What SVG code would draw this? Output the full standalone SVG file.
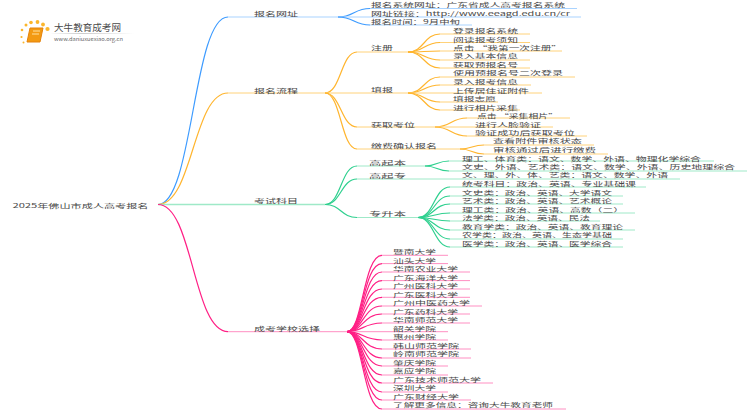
<svg xmlns="http://www.w3.org/2000/svg" width="750" height="410" viewBox="0 0 750 410">
<style>
text{font-family:"Noto Sans CJK SC","Liberation Sans",sans-serif;font-size:5.800px;fill:#4a4a4a}
path{fill:none;stroke-width:1}
.bs{stroke:#3d9bff;stroke-width:1.200}.bl{stroke:#a9d3ff}
.os{stroke:#ffb52e;stroke-width:1.200}.ol{stroke:#ffd27a}
.gs{stroke:#2fd08f;stroke-width:1.200}.gl{stroke:#9fe9c8}
.ps{stroke:#ff1f85;stroke-width:1.200}.pl{stroke:#ff8fc2}
</style>
<defs><linearGradient id="fade" x1="0" x2="1" y1="0" y2="0"><stop offset="0" stop-color="#bbb" stop-opacity="0"/><stop offset=".4" stop-color="#ccc"/><stop offset="1" stop-color="#ccc" stop-opacity="0"/></linearGradient></defs>
<rect width="750" height="410" fill="#fff"/>
<g id="logo">
<g fill="#fbb62c"><circle cx="22" cy="30" r="1.300"/><circle cx="26" cy="25" r="1.500"/><circle cx="31" cy="22.500" r="1.800"/><circle cx="37.500" cy="22" r="1.900"/><circle cx="43" cy="24.500" r="1.900"/><circle cx="47.500" cy="29" r="2.100"/><circle cx="21.500" cy="37" r="1.100"/><circle cx="23.500" cy="42.500" r="1"/></g>
<path d="M30 28H43L40 42H27Z" style="fill:#f39a12;stroke:#e5820a"/>
<path d="M33 31H40M32 34H39" style="stroke:#ffe2a0"/>
<rect x="50" y="33" width="84" height="1" fill="url(#fade)"/>
<text x="54" y="30.500" textLength="67" lengthAdjust="spacingAndGlyphs" style="font-size:9.500px">大牛教育成考网</text>
<text x="54" y="41" textLength="69" lengthAdjust="spacingAndGlyphs" style="font-size:5px;fill:#666">www.daniuxuexiao.org.cn</text>
</g>
<g id="connectors">
<path class="bs" d="M158 204.500C193 204.500 193 17 228 17"/><path class="bl" d="M228 17H338"/>
<path class="bs" d="M338 17C354 17 354 8.500 370 8.500"/><path class="bl" d="M370 8.500H577"/>
<path class="bl" d="M338 17H581"/>
<path class="bs" d="M338 17C354 17 354 25 370 25"/><path class="bl" d="M370 25H472"/>
<path class="os" d="M158 204.500C193 204.500 193 93 228 93"/><path class="ol" d="M228 93H325"/>
<path class="os" d="M325 93C341 93 341 52 357 52"/><path class="ol" d="M357 52H408"/>
<path class="ol" d="M325 93H408"/>
<path class="os" d="M325 93C341 93 341 127 357 127"/><path class="ol" d="M357 127H435"/>
<path class="os" d="M325 93C341 93 341 149 357 149"/><path class="ol" d="M357 149H460"/>
<path class="os" d="M408 52C424 52 424 34 440 34"/><path class="ol" d="M440 34H530"/>
<path class="os" d="M408 52C424 52 424 42.500 440 42.500"/><path class="ol" d="M440 42.500H530"/>
<path class="os" d="M408 52C424 52 424 51 440 51"/><path class="ol" d="M440 51H562"/>
<path class="os" d="M408 52C424 52 424 60 440 60"/><path class="ol" d="M440 60H530"/>
<path class="os" d="M408 52C424 52 424 68 440 68"/><path class="ol" d="M440 68H530"/>
<path class="os" d="M408 93C424 93 424 77 440 77"/><path class="ol" d="M440 77H575"/>
<path class="os" d="M408 93C424 93 424 85 440 85"/><path class="ol" d="M440 85H531"/>
<path class="ol" d="M408 93H542"/>
<path class="os" d="M408 93C424 93 424 102 440 102"/><path class="ol" d="M440 102H498"/>
<path class="os" d="M408 93C424 93 424 110 440 110"/><path class="ol" d="M440 110H520"/>
<path class="os" d="M435 127C451 127 451 118 467 118"/><path class="ol" d="M467 118H570"/>
<path class="ol" d="M435 127H553"/>
<path class="os" d="M435 127C451 127 451 136 467 136"/><path class="ol" d="M467 136H587"/>
<path class="os" d="M460 149C472 149 472 145 484 145"/><path class="ol" d="M484 145H594"/>
<path class="os" d="M460 149C472 149 472 154 484 154"/><path class="ol" d="M484 154H608"/>
<path class="gl" d="M158 204.500H325" style="stroke-width:1.500"/>
<path class="gs" d="M325 204.500C341 204.500 341 166 357 166"/><path class="gl" d="M357 166H425"/>
<path class="gs" d="M325 204.500C341 204.500 341 179 357 179"/><path class="gl" d="M357 179H680"/>
<path class="gs" d="M325 204.500C341 204.500 341 217.500 357 217.500"/><path class="gl" d="M357 217.500H418"/>
<path class="gs" d="M425 166C437 166 437 161 449 161"/><path class="gl" d="M449 161H714"/>
<path class="gs" d="M425 166C437 166 437 171 449 171"/><path class="gl" d="M449 171H747"/>
<path class="gs" d="M418 217.500C434 217.500 434 187 450 187"/><path class="gl" d="M450 187H646"/>
<path class="gs" d="M418 217.500C434 217.500 434 196 450 196"/><path class="gl" d="M450 196H623"/>
<path class="gs" d="M418 217.500C434 217.500 434 204 450 204"/><path class="gl" d="M450 204H623"/>
<path class="gs" d="M418 217.500C434 217.500 434 213 450 213"/><path class="gl" d="M450 213H635"/>
<path class="gs" d="M418 217.500C434 217.500 434 221 450 221"/><path class="gl" d="M450 221H600"/>
<path class="gs" d="M418 217.500C434 217.500 434 230 450 230"/><path class="gl" d="M450 230H635"/>
<path class="gs" d="M418 217.500C434 217.500 434 239 450 239"/><path class="gl" d="M450 239H623"/>
<path class="gs" d="M418 217.500C434 217.500 434 247 450 247"/><path class="gl" d="M450 247H623"/>
<path class="ps" d="M158 204.500C193 204.500 193 331.700 228 331.700"/><path class="pl" d="M228 331.700H347"/>
<path class="ps" d="M347 331.700C363 331.700 363 255.300 382 255.300"/><path class="pl" d="M382 255.300H448"/>
<path class="ps" d="M347 331.700C363 331.700 363 263.600 382 263.600"/><path class="pl" d="M382 263.600H448"/>
<path class="ps" d="M347 331.700C363 331.700 363 272 382 272"/><path class="pl" d="M382 272H470"/>
<path class="ps" d="M347 331.700C363 331.700 363 280.600 382 280.600"/><path class="pl" d="M382 280.600H470"/>
<path class="ps" d="M347 331.700C363 331.700 363 289 382 289"/><path class="pl" d="M382 289H470"/>
<path class="ps" d="M347 331.700C363 331.700 363 297.300 382 297.300"/><path class="pl" d="M382 297.300H470"/>
<path class="ps" d="M347 331.700C363 331.700 363 306 382 306"/><path class="pl" d="M382 306H482"/>
<path class="ps" d="M347 331.700C363 331.700 363 314 382 314"/><path class="pl" d="M382 314H470"/>
<path class="ps" d="M347 331.700C363 331.700 363 323 382 323"/><path class="pl" d="M382 323H470"/>
<path class="pl" d="M347 331.700H448"/>
<path class="ps" d="M347 331.700C363 331.700 363 340 382 340"/><path class="pl" d="M382 340H448"/>
<path class="ps" d="M347 331.700C363 331.700 363 349 382 349"/><path class="pl" d="M382 349H471"/>
<path class="ps" d="M347 331.700C363 331.700 363 358 382 358"/><path class="pl" d="M382 358H471"/>
<path class="ps" d="M347 331.700C363 331.700 363 366 382 366"/><path class="pl" d="M382 366H448"/>
<path class="ps" d="M347 331.700C363 331.700 363 375 382 375"/><path class="pl" d="M382 375H448"/>
<path class="ps" d="M347 331.700C363 331.700 363 383 382 383"/><path class="pl" d="M382 383H493"/>
<path class="ps" d="M347 331.700C363 331.700 363 392 382 392"/><path class="pl" d="M382 392H448"/>
<path class="ps" d="M347 331.700C363 331.700 363 400 382 400"/><path class="pl" d="M382 400H471"/>
<path class="ps" d="M347 331.700C363 331.700 363 409 382 409"/><path class="pl" d="M382 409H566"/>
</g>
<g id="root"><text x="12.500" y="207.500" textLength="136" lengthAdjust="spacingAndGlyphs">2025年佛山市成人高考报名</text></g>
<g id="n1"><text x="254" y="16.300" textLength="44" lengthAdjust="spacingAndGlyphs">报名网址</text></g>
<g id="n1a"><text x="371" y="7.300" textLength="194" lengthAdjust="spacingAndGlyphs">报名系统网址：广东省成人高考报名系统</text></g>
<g id="n1b"><text x="371" y="15.700" textLength="199" lengthAdjust="spacingAndGlyphs">网址链接：http://www.eeagd.edu.cn/cr</text></g>
<g id="n1c"><text x="371" y="24" textLength="89" lengthAdjust="spacingAndGlyphs">报名时间：9月中旬</text></g>
<g id="n2"><text x="254" y="92.500" textLength="44" lengthAdjust="spacingAndGlyphs">报名流程</text></g>
<g id="n21"><text x="371" y="50" textLength="22" lengthAdjust="spacingAndGlyphs">注册</text></g>
<g id="n211"><text x="453" y="33" textLength="65" lengthAdjust="spacingAndGlyphs">登录报名系统</text></g>
<g id="n212"><text x="453" y="41.500" textLength="65" lengthAdjust="spacingAndGlyphs">阅读报考须知</text></g>
<g id="n213"><text x="453" y="49.900" textLength="109" lengthAdjust="spacingAndGlyphs">点击 “我第一次注册”</text></g>
<g id="n214"><text x="453" y="58.300" textLength="65" lengthAdjust="spacingAndGlyphs">录入基本信息</text></g>
<g id="n215"><text x="453" y="66.700" textLength="65" lengthAdjust="spacingAndGlyphs">获取预报名号</text></g>
<g id="n22"><text x="371" y="92" textLength="22" lengthAdjust="spacingAndGlyphs">填报</text></g>
<g id="n221"><text x="453" y="75.400" textLength="110" lengthAdjust="spacingAndGlyphs">使用预报名号二次登录</text></g>
<g id="n222"><text x="453" y="84" textLength="65" lengthAdjust="spacingAndGlyphs">录入报考信息</text></g>
<g id="n223"><text x="453" y="92.500" textLength="76" lengthAdjust="spacingAndGlyphs">上传居住证附件</text></g>
<g id="n224"><text x="453" y="101" textLength="43" lengthAdjust="spacingAndGlyphs">填报志愿</text></g>
<g id="n225"><text x="453" y="109.600" textLength="65" lengthAdjust="spacingAndGlyphs">进行相片采集</text></g>
<g id="n23"><text x="371" y="126.500" textLength="44" lengthAdjust="spacingAndGlyphs">获取考位</text></g>
<g id="n231"><text x="477" y="118" textLength="81" lengthAdjust="spacingAndGlyphs">点击 “采集相片”</text></g>
<g id="n232"><text x="475" y="126.500" textLength="66" lengthAdjust="spacingAndGlyphs">进行人脸验证</text></g>
<g id="n233"><text x="475" y="135" textLength="100" lengthAdjust="spacingAndGlyphs">验证成功后获取考位</text></g>
<g id="n24"><text x="371" y="147.500" textLength="66" lengthAdjust="spacingAndGlyphs">缴费确认报名</text></g>
<g id="n241"><text x="493" y="143.400" textLength="89" lengthAdjust="spacingAndGlyphs">查看附件审核状态</text></g>
<g id="n242"><text x="493" y="151.800" textLength="103" lengthAdjust="spacingAndGlyphs">审核通过后进行缴费</text></g>
<g id="n3"><text x="254" y="203" textLength="44" lengthAdjust="spacingAndGlyphs">考试科目</text></g>
<g id="n31"><text x="369" y="164.500" textLength="37" lengthAdjust="spacingAndGlyphs">高起本</text></g>
<g id="n311"><text x="462" y="160.600" textLength="239" lengthAdjust="spacingAndGlyphs">理工、体育类：语文、数学、外语、物理化学综合</text></g>
<g id="n312"><text x="462" y="169" textLength="273" lengthAdjust="spacingAndGlyphs">文史、外语、艺术类：语文、数学、外语、历史地理综合</text></g>
<g id="n32"><text x="369" y="177.500" textLength="37" lengthAdjust="spacingAndGlyphs">高起专</text></g>
<g id="n321"><text x="462" y="177.400" textLength="206" lengthAdjust="spacingAndGlyphs">文、理、外、体、艺类：语文、数学、外语</text></g>
<g id="n33"><text x="369" y="215.500" textLength="37" lengthAdjust="spacingAndGlyphs">专升本</text></g>
<g id="n331"><text x="462" y="186" textLength="174" lengthAdjust="spacingAndGlyphs">统考科目：政治、英语、专业基础课</text></g>
<g id="n332"><text x="462" y="194.500" textLength="150" lengthAdjust="spacingAndGlyphs">文史类：政治、英语、大学语文</text></g>
<g id="n333"><text x="462" y="203" textLength="150" lengthAdjust="spacingAndGlyphs">艺术类：政治、英语、艺术概论</text></g>
<g id="n334"><text x="462" y="211.500" textLength="162" lengthAdjust="spacingAndGlyphs">理工类：政治、英语、高数（二）</text></g>
<g id="n335"><text x="462" y="220" textLength="128" lengthAdjust="spacingAndGlyphs">法学类：政治、英语、民法</text></g>
<g id="n336"><text x="462" y="228.500" textLength="161" lengthAdjust="spacingAndGlyphs">教育学类：政治、英语、教育理论</text></g>
<g id="n337"><text x="462" y="237" textLength="150" lengthAdjust="spacingAndGlyphs">农学类：政治、英语、生态学基础</text></g>
<g id="n338"><text x="462" y="245.500" textLength="150" lengthAdjust="spacingAndGlyphs">医学类：政治、英语、医学综合</text></g>
<g id="n4"><text x="254" y="330.500" textLength="66" lengthAdjust="spacingAndGlyphs">成考学校选择</text></g>
<g id="s1"><text x="393" y="254" textLength="43" lengthAdjust="spacingAndGlyphs">暨南大学</text></g>
<g id="s2"><text x="393" y="262.500" textLength="43" lengthAdjust="spacingAndGlyphs">汕头大学</text></g>
<g id="s3"><text x="393" y="271" textLength="65" lengthAdjust="spacingAndGlyphs">华南农业大学</text></g>
<g id="s4"><text x="393" y="279.500" textLength="65" lengthAdjust="spacingAndGlyphs">广东海洋大学</text></g>
<g id="s5"><text x="393" y="288" textLength="65" lengthAdjust="spacingAndGlyphs">广州医科大学</text></g>
<g id="s6"><text x="393" y="296.500" textLength="65" lengthAdjust="spacingAndGlyphs">广东医科大学</text></g>
<g id="s7"><text x="393" y="305" textLength="77" lengthAdjust="spacingAndGlyphs">广州中医药大学</text></g>
<g id="s8"><text x="393" y="313.500" textLength="65" lengthAdjust="spacingAndGlyphs">广东药科大学</text></g>
<g id="s9"><text x="393" y="322" textLength="65" lengthAdjust="spacingAndGlyphs">华南师范大学</text></g>
<g id="s10"><text x="393" y="330.500" textLength="43" lengthAdjust="spacingAndGlyphs">韶关学院</text></g>
<g id="s11"><text x="393" y="339" textLength="43" lengthAdjust="spacingAndGlyphs">惠州学院</text></g>
<g id="s12"><text x="393" y="347.500" textLength="66" lengthAdjust="spacingAndGlyphs">韩山师范学院</text></g>
<g id="s13"><text x="393" y="356" textLength="66" lengthAdjust="spacingAndGlyphs">岭南师范学院</text></g>
<g id="s14"><text x="393" y="364.500" textLength="43" lengthAdjust="spacingAndGlyphs">肇庆学院</text></g>
<g id="s15"><text x="393" y="373" textLength="43" lengthAdjust="spacingAndGlyphs">嘉应学院</text></g>
<g id="s16"><text x="393" y="381.500" textLength="88" lengthAdjust="spacingAndGlyphs">广东技术师范大学</text></g>
<g id="s17"><text x="393" y="390" textLength="43" lengthAdjust="spacingAndGlyphs">深圳大学</text></g>
<g id="s18"><text x="393" y="398.500" textLength="66" lengthAdjust="spacingAndGlyphs">广东财经大学</text></g>
<g id="s19"><text x="393" y="407" textLength="160" lengthAdjust="spacingAndGlyphs">了解更多信息：咨询大牛教育老师</text></g>
</svg>
